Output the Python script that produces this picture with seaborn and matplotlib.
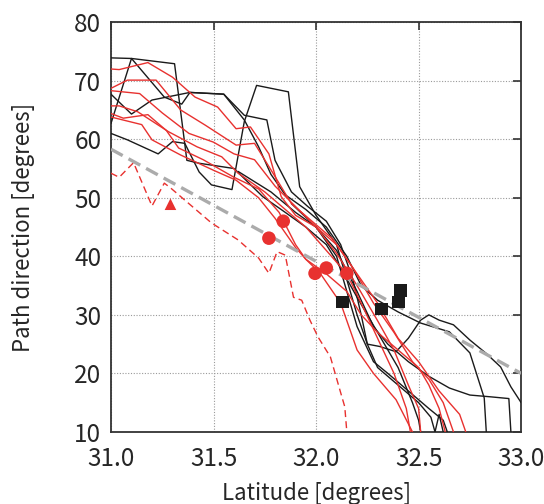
import numpy as np
import pandas as pd
import matplotlib
matplotlib.use("Agg")
import matplotlib.pyplot as plt
import seaborn as sns

# ---------------- data (latitude, path direction) ----------------
black_1 = [(31.0, 73.9), (31.1, 73.8), (31.31, 72.9), (31.37, 56.4), (31.43, 55.9), (31.60, 55.0),
           (31.74, 50.2), (31.85, 47.5), (31.95, 45.0), (32.05, 42.0), (32.12, 38.0), (32.2, 33.0),
           (32.3, 27.0), (32.4, 21.0), (32.47, 15.0), (32.5, 12.0), (32.51, 10.0)]
black_2 = [(31.0, 62.7), (31.1, 73.8), (31.26, 67.2), (31.345, 66.0), (31.385, 68.0), (31.55, 67.7),
           (31.65, 63.3), (31.72, 58.7), (31.78, 54.0), (31.85, 50.5), (31.95, 48.0), (32.05, 45.0),
           (32.15, 40.0), (32.22, 35.0), (32.3, 32.5), (32.4, 30.5), (32.51, 28.6), (32.65, 27.1),
           (32.75, 23.5), (32.82, 15.8), (32.83, 10.0)]
black_3 = [(31.0, 67.7), (31.1, 64.3), (31.2, 66.7), (31.385, 68.0), (31.55, 67.7), (31.65, 64.1),
           (31.76, 63.3), (31.80, 56.4), (31.88, 51.0), (31.96, 48.5), (32.05, 46.0), (32.12, 42.0),
           (32.18, 36.0), (32.22, 30.0), (32.25, 25.0), (32.31, 24.6), (32.39, 23.7), (32.45, 26.0),
           (32.51, 29.1), (32.55, 30.0), (32.6, 29.1), (32.67, 28.3), (32.75, 25.7), (32.83, 23.4),
           (32.9, 21.1), (32.95, 17.7), (33.0, 15.0)]
black_4 = [(31.0, 61.0), (31.08, 59.9), (31.23, 57.5), (31.30, 59.6), (31.36, 59.3), (31.43, 54.4),
           (31.49, 52.2), (31.59, 51.4), (31.65, 63.0), (31.71, 69.2), (31.865, 68.1), (31.92, 51.9),
           (32.0, 47.0), (32.1, 42.0), (32.15, 36.0), (32.2, 30.0), (32.25, 25.0), (32.3, 21.0),
           (32.4, 18.0), (32.5, 15.0), (32.56, 12.5), (32.58, 10.0), (32.6, 13.0), (32.62, 10.0)]
black_5 = [(31.62, 54.5), (31.78, 51.0), (31.9, 47.5), (32.0, 45.0), (32.1, 41.0), (32.2, 34.0),
           (32.28, 28.0), (32.35, 25.0), (32.45, 22.0), (32.55, 19.5), (32.65, 17.5), (32.75, 16.3),
           (32.85, 16.0), (32.94, 15.7), (32.95, 10.0)]
black_6 = [(31.88, 49.0), (32.0, 45.0), (32.1, 40.0), (32.15, 34.0), (32.2, 28.0), (32.28, 22.0),
           (32.35, 20.0), (32.45, 17.0), (32.55, 14.0), (32.62, 12.0), (32.64, 10.0)]

red_1 = [(31.0, 72.0), (31.04, 71.9), (31.18, 73.1), (31.30, 70.6), (31.41, 67.2), (31.52, 65.5),
         (31.61, 61.8), (31.68, 62.1), (31.77, 57.5), (31.83, 50.2), (31.9, 47.0), (32.0, 45.0),
         (32.1, 42.0), (32.2, 37.0), (32.3, 32.0), (32.4, 26.0), (32.5, 22.0), (32.6, 17.0),
         (32.7, 13.0), (32.73, 10.0)]
red_2 = [(31.0, 68.7), (31.08, 70.1), (31.22, 70.1), (31.34, 65.0), (31.46, 62.4), (31.61, 59.0),
         (31.70, 59.3), (31.79, 54.2), (31.88, 49.0), (31.98, 46.0), (32.08, 43.0), (32.18, 38.0),
         (32.28, 32.0), (32.38, 27.0), (32.47, 22.0), (32.55, 19.0), (32.62, 15.0), (32.67, 10.0)]
red_3 = [(31.0, 68.3), (31.14, 67.8), (31.25, 64.5), (31.38, 61.0), (31.5, 59.5), (31.6, 57.5),
         (31.7, 56.5), (31.8, 52.0), (31.9, 48.5), (32.0, 45.0), (32.1, 40.5), (32.2, 35.0),
         (32.3, 29.0), (32.38, 24.0), (32.45, 18.0), (32.5, 14.0), (32.51, 10.0)]
red_4 = [(31.0, 65.7), (31.04, 65.7), (31.13, 64.7), (31.28, 61.3), (31.42, 58.7), (31.54, 57.0),
         (31.62, 54.2), (31.75, 51.0), (31.85, 48.0), (31.95, 45.0), (32.05, 41.0), (32.15, 37.0),
         (32.22, 32.0), (32.3, 26.0), (32.38, 20.0), (32.44, 14.0), (32.46, 10.0)]
red_5 = [(31.0, 64.4), (31.06, 63.6), (31.18, 64.2), (31.27, 61.5), (31.33, 58.5), (31.45, 56.5),
         (31.6, 53.5), (31.72, 51.5), (31.82, 47.5), (31.9, 42.0), (31.95, 39.5), (32.02, 37.1),
         (32.12, 32.0), (32.2, 24.0), (32.28, 20.0), (32.39, 15.5), (32.47, 10.0)]
red_6 = [(31.0, 63.8), (31.15, 62.5), (31.2, 59.9), (31.34, 57.3), (31.5, 54.7), (31.61, 53.0),
         (31.72, 50.0), (31.8, 46.5), (31.85, 44.0), (31.9, 41.5), (31.95, 39.5), (32.05, 37.0),
         (32.15, 34.0), (32.22, 30.0), (32.3, 27.0), (32.4, 24.0), (32.5, 21.0), (32.55, 18.0),
         (32.6, 14.0), (32.63, 10.0)]
red_dashed = [(31.0, 54.2), (31.04, 53.5), (31.11, 56.0), (31.2, 48.6), (31.26, 52.5), (31.29, 51.7),
              (31.49, 45.7), (31.62, 42.8), (31.72, 39.7), (31.77, 37.1), (31.81, 40.8), (31.85, 40.2),
              (31.89, 33.0), (31.93, 32.5), (31.97, 29.1), (32.01, 26.2), (32.07, 22.8),
              (32.12, 16.7), (32.14, 14.3), (32.15, 10.0)]

fit_lat = [31.0, 33.0]
fit_deg = [58.3, 20.0]

circle_lat = [31.77, 31.84, 31.995, 32.05, 32.15]
circle_deg = [43.1, 46.0, 37.1, 38.0, 37.1]
triangle_lat = [31.29]
triangle_deg = [48.9]
square_lat = [32.13, 32.32, 32.40, 32.41]
square_deg = [32.2, 31.0, 32.2, 34.1]

x_ticks = [31.0, 31.5, 32.0, 32.5, 33.0]
x_ticklabels = ["31.0", "31.5", "32.0", "32.5", "33.0"]
y_ticks = [10, 20, 30, 40, 50, 60, 70, 80]

RED = "#e8312f"
BLACK = "#1a1a1a"

# ---------------- build long-form table ----------------
rows = []
tracks = [("b1", "black", black_1), ("b2", "black", black_2), ("b3", "black", black_3),
          ("b4", "black", black_4), ("b5", "black", black_5), ("b6", "black", black_6),
          ("r1", "red", red_1), ("r2", "red", red_2), ("r3", "red", red_3),
          ("r4", "red", red_4), ("r5", "red", red_5), ("r6", "red", red_6)]
for name, grp, pts in tracks:
    for i, (la, de) in enumerate(pts):
        rows.append({"track": name, "group": grp, "lat": la, "deg": de, "order": i})
df = pd.DataFrame(rows)
df_dash = pd.DataFrame({"lat": [p[0] for p in red_dashed], "deg": [p[1] for p in red_dashed]})
df_fit = pd.DataFrame({"lat": fit_lat, "deg": fit_deg})

sns.set_theme(style="white")
plt.rcParams["font.family"] = ["Noto Sans CJK JP", "DejaVu Sans"]

fig = plt.figure(figsize=(5.44, 5.04), dpi=100)
ax = fig.add_axes([0.204, 0.143, 0.754, 0.813])

ax.grid(True, color="#9a9a9a", linestyle=(0, (1, 1.5)), linewidth=0.8)
ax.set_axisbelow(True)

sns.lineplot(data=df, x="lat", y="deg", units="track", hue="group", estimator=None, sort=False,
             palette={"black": BLACK, "red": RED}, linewidth=1.0, legend=False, ax=ax, zorder=3)
sns.lineplot(data=df_dash, x="lat", y="deg", estimator=None, sort=False, color=RED,
             linewidth=1.0, ax=ax, zorder=3)
ax.lines[-1].set_linestyle((0, (5, 3)))
sns.lineplot(data=df_fit, x="lat", y="deg", estimator=None, sort=False, color="#ababab",
             linewidth=2.4, ax=ax, zorder=4)
ax.lines[-1].set_linestyle((0, (4, 2)))

sns.scatterplot(x=circle_lat, y=circle_deg, color=RED, s=95, marker="o", edgecolor="none", ax=ax, zorder=5)
sns.scatterplot(x=triangle_lat, y=triangle_deg, color=RED, s=70, marker="^", edgecolor="none", ax=ax, zorder=5)
sns.scatterplot(x=square_lat, y=square_deg, color=BLACK, s=85, marker="s", edgecolor="none", ax=ax, zorder=5)

ax.set_xlim(31.0, 33.0)
ax.set_ylim(10, 80)
ax.set_xticks(x_ticks)
ax.set_xticklabels(x_ticklabels)
ax.set_yticks(y_ticks)
ax.tick_params(direction="in", length=6, width=1.2, color="#333333", top=True, right=True,
               labelsize=17.5, pad=7)
ax.tick_params(axis="x", pad=10)
for s in ax.spines.values():
    s.set_color("#333333")
    s.set_linewidth(1.3)
    s.set_visible(True)

ax.set_xlabel("Latitude [degrees]", fontsize=16, va="bottom")
ax.xaxis.set_label_coords(0.5, -0.178)
ax.set_ylabel("Path direction [degrees]", fontsize=16, labelpad=28)

fig.savefig("out.png", dpi=100, facecolor="white")
